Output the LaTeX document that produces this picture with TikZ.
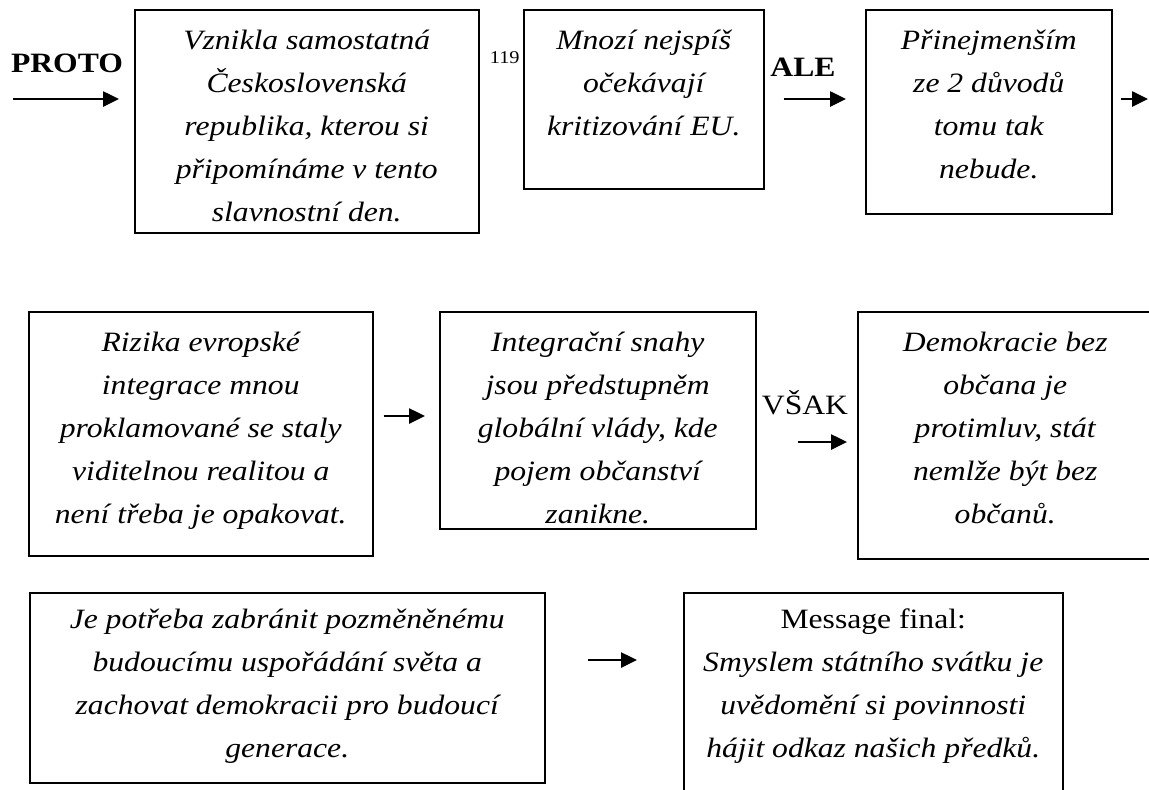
\documentclass[tikz,border=0pt]{standalone}
\usepackage{fontspec}
\setmainfont{Liberation Serif}[FakeStretch=1.13]
\usetikzlibrary{arrows.meta}

\begin{document}
\begin{tikzpicture}[x=0.5pt,y=-0.5pt,
  box/.style={draw,line width=0.75pt,anchor=north west,inner sep=0pt,
    align=flush center,text height=20pt,font=\fontsize{14}{21.5}\selectfont\itshape},
  arr/.style={-{Triangle[length=8pt,width=7.5pt]},line width=1.3pt},
  conj/.style={font=\fontsize{14}{18}\selectfont\bfseries}]
\useasboundingbox (0,0) rectangle (1149,789);
% Row 1
\node[box,text width=172pt,text depth=91.5pt] (b1) at (134,9)
  {Vznikla samostatná\\Československá\\republika, kterou si\\připomínáme v tento\\slavnostní den.};
\node[box,text width=120pt,text depth=69.5pt] (b2) at (523,9)
  {Mnozí nejspíš\\očekávají\\kritizování EU.};
\node[box,text width=123pt,text depth=82pt] (b3) at (865,9)
  {Přinejmenším\\ze 2 důvodů\\tomu tak\\nebude.};
% Row 2
\node[box,text width=172pt,text depth=102pt] (b4) at (28,311)
  {Rizika evropské\\integrace mnou\\proklamované se staly\\viditelnou realitou a\\není třeba je opakovat.};
\node[box,text width=158pt,text depth=88.5pt] (b5) at (439,311)
  {Integrační snahy\\jsou předstupněm\\globální vlády, kde\\pojem občanství\\zanikne.};
\node[box,text width=147.5pt,text depth=103.5pt] (b6) at (857,311)
  {Demokracie bez\\občana je\\protimluv, stát\\nemlže být bez\\občanů.};
% Row 3
\node[box,text width=257.5pt,text height=18pt,text depth=77pt] (b7) at (29,592)
  {Je potřeba zabránit pozměněnému\\budoucímu uspořádání světa a\\zachovat demokracii pro budoucí\\generace.};
\node[box,text width=189.5pt,text height=18pt,text depth=90pt] (b8) at (683,592)
  {{\upshape Message final:}\\Smyslem státního svátku je\\uvědomění si povinnosti\\hájit odkaz našich předků.};
% Labels
\node[conj] (proto) at (67,63) {PROTO};
\node[conj] (ale) at (803,67) {ALE};
\node[font=\fontsize{14}{18}\selectfont] (vsak) at (805,403) {VŠAK};
\node[font=\fontsize{9}{10}\selectfont,anchor=east,inner sep=1pt] (fn) at (522,58) {119};
% Arrows
\coordinate (r1) at (13,99);
\coordinate (r1e) at (1148,99);
\coordinate (r2) at (0,416);
\coordinate (r3) at (0,442);
\coordinate (r4) at (0,660);
\draw[arr,shorten >=7.5pt] (r1) -- (b1.west |- r1);
\draw[arr,shorten <=9.5pt,shorten >=9.5pt] (b2.east |- r1) -- (b3.west |- r1);
\draw[arr,shorten <=4pt] (b3.east |- r1) -- (r1e);
\draw[arr,shorten <=5pt,shorten >=7pt] (b4.east |- r2) -- (b5.west |- r2);
\draw[arr,shorten <=20.5pt,shorten >=5pt] (b5.east |- r3) -- (b6.west |- r3);
\draw[arr,shorten <=21pt,shorten >=23pt] (b7.east |- r4) -- (b8.west |- r4);
\end{tikzpicture}
\end{document}
